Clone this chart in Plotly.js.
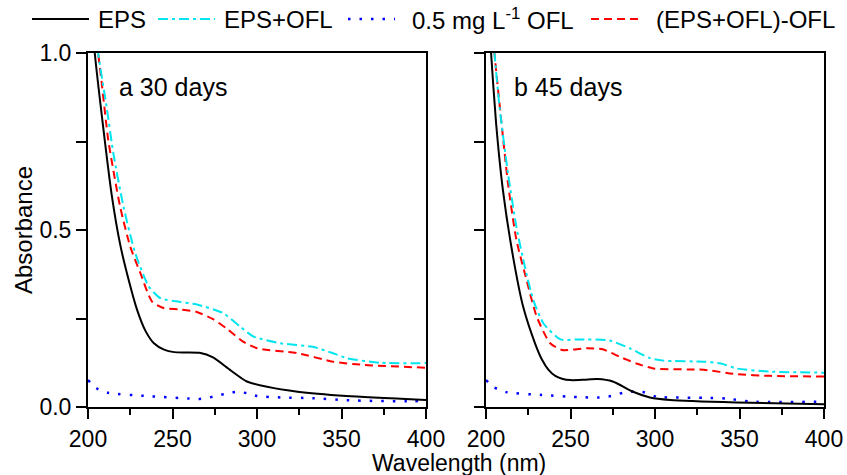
<!DOCTYPE html>
<html>
<head>
<meta charset="utf-8">
<script src="https://cdn.plot.ly/plotly-3.0.1.min.js"></script>
<style>html,body{margin:0;padding:0;background:#fff;}#chart{width:847px;height:475px;}</style>
</head>
<body>
<div id="chart"></div>
<script>
// ---- Data ----
var seriesNames = ["EPS", "EPS+OFL", "0.5 mg L<sup>-1</sup> OFL", "(EPS+OFL)-OFL"];
var panelLabels = ["a 30 days", "b 45 days"];
var xTickVals = [200, 250, 300, 350, 400];
var yTickVals = [0.0, 0.5, 1.0];
var yTickText = ["0.0", "0.5", "1.0"];

// Panel a: 30 days
var epsA_x = [200, 204, 209, 214, 219, 224, 229, 234, 239, 245, 251, 258, 266, 274, 284, 294, 306, 324, 353, 400];
var epsA_y = [1.25, 1.0, 0.79, 0.60, 0.46, 0.36, 0.275, 0.215, 0.180, 0.162, 0.155, 0.154, 0.153, 0.140, 0.105, 0.072, 0.057, 0.043, 0.031, 0.020];
var mixA_x = [200, 206, 211, 215, 221, 228, 236, 243, 254, 264, 280, 290, 298, 314, 333, 345, 353, 373, 400];
var mixA_y = [1.25, 1.0, 0.848, 0.717, 0.566, 0.434, 0.34, 0.307, 0.297, 0.29, 0.265, 0.227, 0.199, 0.18, 0.17, 0.152, 0.138, 0.125, 0.124];
var oflA_x = [200, 205, 212, 235, 260, 267, 274, 281, 288, 294, 300, 314, 333, 353, 392, 400];
var oflA_y = [0.076, 0.053, 0.040, 0.031, 0.024, 0.023, 0.029, 0.037, 0.043, 0.039, 0.031, 0.027, 0.025, 0.019, 0.016, 0.018];
var diffA_x = [200, 206, 208, 212, 219, 225, 231, 238, 245, 254, 264, 274, 282, 292, 300, 324, 345, 363, 400];
var diffA_y = [1.25, 1.0, 0.92, 0.754, 0.566, 0.453, 0.378, 0.297, 0.279, 0.276, 0.269, 0.248, 0.222, 0.184, 0.166, 0.152, 0.128, 0.119, 0.111];

// Panel b: 45 days
var epsB_x = [200, 203, 206, 210, 216, 222, 229, 233, 237, 241, 245, 250, 258, 266, 275, 287, 297, 309, 348, 400];
var epsB_y = [1.25, 1.0, 0.80, 0.613, 0.425, 0.283, 0.180, 0.135, 0.105, 0.088, 0.080, 0.076, 0.077, 0.079, 0.072, 0.043, 0.027, 0.020, 0.013, 0.008];
var mixB_x = [200, 205, 208, 213, 218, 223, 228, 234, 244, 254, 273, 285, 297, 305, 329, 339, 348, 368, 400];
var mixB_y = [1.3, 1.0, 0.848, 0.66, 0.509, 0.396, 0.302, 0.236, 0.191, 0.191, 0.188, 0.166, 0.138, 0.131, 0.128, 0.123, 0.109, 0.10, 0.097];
var oflB_x = [200, 205, 212, 233, 254, 267, 274, 281, 288, 294, 301, 329, 342, 358, 400];
var oflB_y = [0.076, 0.055, 0.042, 0.034, 0.028, 0.027, 0.031, 0.040, 0.044, 0.041, 0.029, 0.026, 0.024, 0.015, 0.015];
var diffB_x = [200, 205, 209, 213, 218, 224, 230, 238, 245, 260, 269, 279, 289, 299, 329, 348, 368, 400];
var diffB_y = [1.3, 1.0, 0.81, 0.632, 0.472, 0.359, 0.255, 0.18, 0.161, 0.166, 0.163, 0.142, 0.123, 0.109, 0.105, 0.093, 0.088, 0.086];

// ---- Styles ----
var FONT = "Liberation Sans, Arial, Helvetica, sans-serif";
var styles = [
  {color: "#000000", width: 2, dash: "solid"},
  {color: "#00e5ee", width: 2, dash: "10px,4px,3px,4px"},
  {color: "#0000ff", width: 2.5, dash: "2.5px,9px"},
  {color: "#ff0000", width: 2, dash: "8px,5px"}
];

function mk(x, y, i, xa, ya) {
  return {x: x, y: y, type: "scatter", mode: "lines", name: seriesNames[i],
    xaxis: xa, yaxis: ya, showlegend: false,
    line: {color: styles[i].color, width: styles[i].width, dash: styles[i].dash, shape: "spline", smoothing: 0.6}};
}

var traces = [
  mk(oflA_x, oflA_y, 2, "x", "y"),
  mk(diffA_x, diffA_y, 3, "x", "y"),
  mk(mixA_x, mixA_y, 1, "x", "y"),
  mk(epsA_x, epsA_y, 0, "x", "y"),
  mk(oflB_x, oflB_y, 2, "x2", "y2"),
  mk(diffB_x, diffB_y, 3, "x2", "y2"),
  mk(mixB_x, mixB_y, 1, "x2", "y2"),
  mk(epsB_x, epsB_y, 0, "x2", "y2")
];

// ---- Layout geometry (pixels) ----
var W = 847, H = 475;
var M = {l: 88, r: 23, t: 53, b: 68};
var PW = W - M.l - M.r, PH = H - M.t - M.b;
function px2x(p) { return (p - M.l) / PW; }
function py2y(p) { return (H - M.b - p) / PH; }

function xAxis(domain, anchor) {
  return {domain: domain, anchor: anchor, range: [200, 400], tickvals: xTickVals,
    showline: true, mirror: true, linecolor: "#000", linewidth: 2,
    ticks: "outside", ticklen: 10, tickwidth: 2, tickcolor: "#000",
    minor: {dtick: 25, tick0: 200, ticks: "outside", ticklen: 6, tickwidth: 2, tickcolor: "#000"},
    showgrid: false, zeroline: false, tickfont: {family: FONT, size: 23, color: "#000"}};
}
function yAxis(anchor, labels) {
  var a = {domain: [0, 1], anchor: anchor, range: [0, 1], tickvals: yTickVals, ticktext: yTickText,
    showline: true, mirror: true, linecolor: "#000", linewidth: 2,
    ticks: "outside", ticklen: 10, tickwidth: 2, tickcolor: "#000",
    minor: {dtick: 0.25, tick0: 0, ticks: "outside", ticklen: 10, tickwidth: 2, tickcolor: "#000"},
    showgrid: false, zeroline: false, showticklabels: labels,
    tickfont: {family: FONT, size: 23, color: "#000"}};
  if (labels) a.title = {text: "Absorbance", font: {family: FONT, size: 24, color: "#000"}, standoff: 0};
  return a;
}

var leftEnd = px2x(426), rightStart = px2x(486);

// Manual legend (sample line positions in px)
var legendItems = [
  {x0: 32, x1: 89, tx: 96},
  {x0: 158, x1: 215, tx: 222},
  {x0: 348, x1: 395, tx: 410},
  {x0: 591, x1: 638, tx: 654}
];
var legY = 19;
var shapes = [], annotations = [];
legendItems.forEach(function (it, i) {
  shapes.push({type: "line", xref: "paper", yref: "paper",
    x0: px2x(it.x0), x1: px2x(it.x1), y0: py2y(legY), y1: py2y(legY),
    line: {color: styles[i].color, width: styles[i].width, dash: styles[i].dash}});
  annotations.push({xref: "paper", yref: "paper", x: px2x(it.tx), y: py2y(legY),
    xanchor: "left", yanchor: "middle", showarrow: false, text: seriesNames[i],
    font: {family: FONT, size: 24, color: "#000"}});
});

annotations.push({xref: "paper", yref: "paper", x: px2x(117), y: py2y(87), xanchor: "left", yanchor: "middle",
  showarrow: false, text: panelLabels[0], font: {family: FONT, size: 25, color: "#000"}});
annotations.push({xref: "paper", yref: "paper", x: px2x(512), y: py2y(87), xanchor: "left", yanchor: "middle",
  showarrow: false, text: panelLabels[1], font: {family: FONT, size: 25, color: "#000"}});
annotations.push({xref: "paper", yref: "paper", x: px2x(459), y: py2y(463), xanchor: "center", yanchor: "middle",
  showarrow: false, text: "Wavelength (nm)", font: {family: FONT, size: 23, color: "#000"}});

var layout = {
  width: W, height: H, margin: M,
  paper_bgcolor: "#fff", plot_bgcolor: "#fff",
  showlegend: false,
  xaxis: xAxis([0, leftEnd], "y"),
  yaxis: yAxis("x", true),
  xaxis2: xAxis([rightStart, 1], "y2"),
  yaxis2: yAxis("x2", false),
  shapes: shapes,
  annotations: annotations,
  font: {family: FONT, color: "#000"}
};

Plotly.newPlot("chart", traces, layout, {displayModeBar: false, staticPlot: true});
</script>
</body>
</html>
